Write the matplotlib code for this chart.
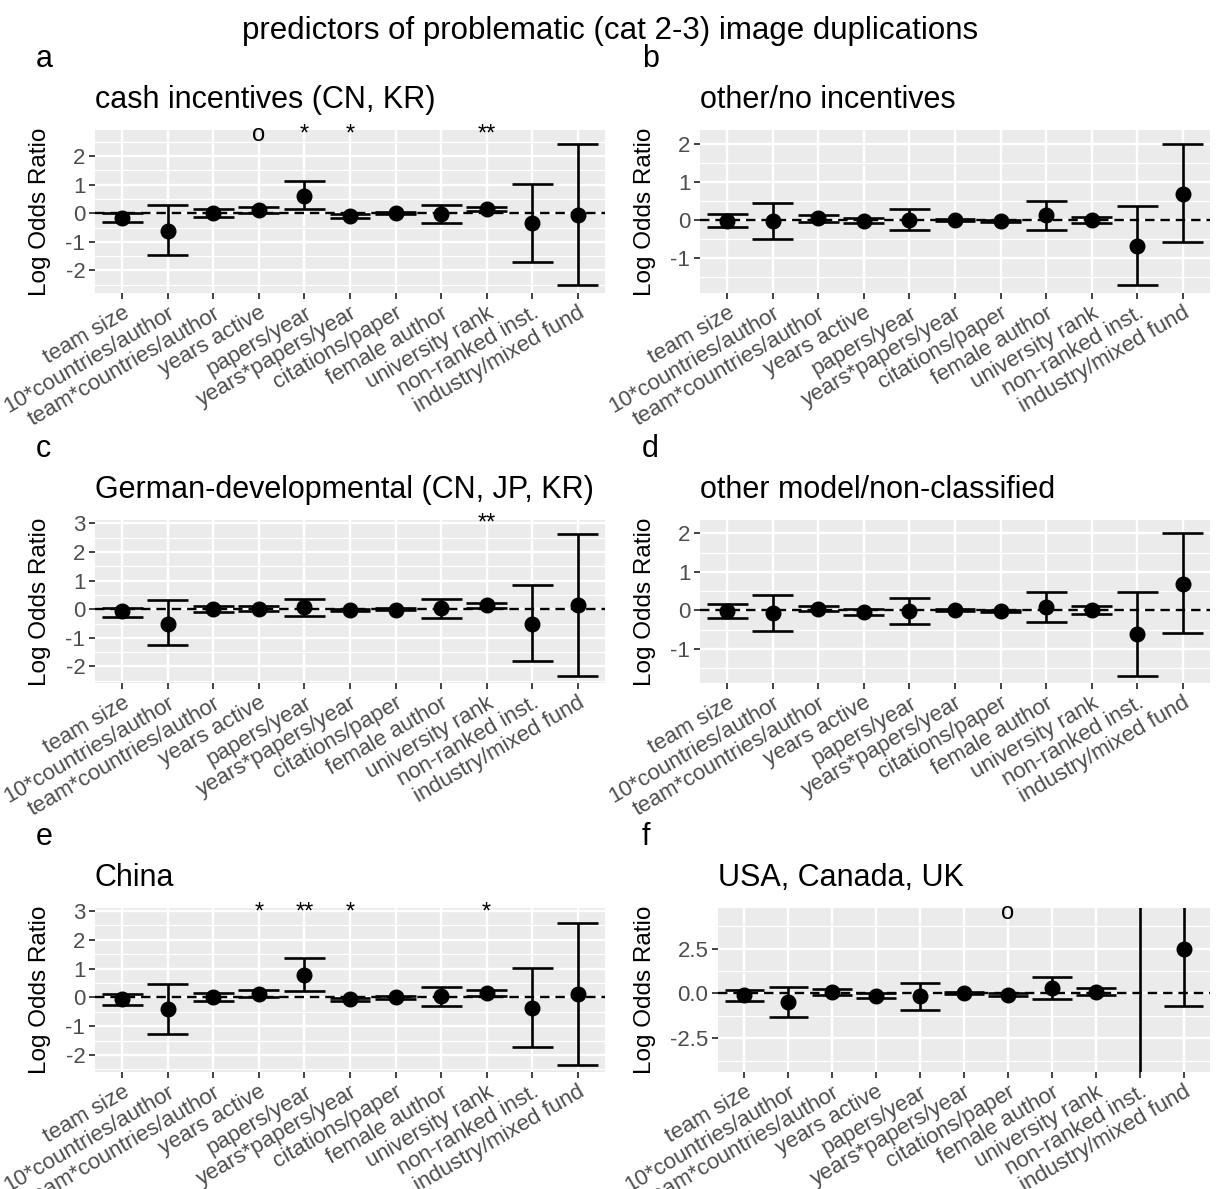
import numpy as np
import matplotlib.pyplot as plt

plt.rcParams['font.family'] = ['Liberation Sans', 'DejaVu Sans']
plt.rcParams['axes.unicode_minus'] = False

predictors = ["team size", "10*countries/author", "team*countries/author", "years active",
              "papers/year", "years*papers/year", "citations/paper", "female author",
              "university rank", "non-ranked inst.", "industry/mixed fund"]

# a: cash incentives
est_a = [-0.15, -0.61, 0.02, 0.10, 0.60, -0.09, 0.00, -0.03, 0.14, -0.35, -0.05]
lo_a = [-0.32, -1.45, -0.12, 0.01, 0.14, -0.17, -0.04, -0.35, 0.07, -1.70, -2.52]
hi_a = [0.02, 0.29, 0.15, 0.20, 1.13, -0.02, 0.04, 0.29, 0.23, 1.01, 2.43]
sig_a = ["", "", "", "o", "*", "*", "", "", "**", "", ""]

# b: other/no incentives
est_b = [-0.02, -0.03, 0.04, -0.03, 0.00, 0.00, -0.03, 0.12, 0.00, -0.68, 0.70]
lo_b = [-0.18, -0.49, -0.05, -0.09, -0.26, -0.03, -0.05, -0.27, -0.09, -1.73, -0.57]
hi_b = [0.17, 0.44, 0.12, 0.05, 0.28, 0.03, 0.01, 0.51, 0.09, 0.38, 2.00]
sig_b = [""] * 11

# c: German-developmental
est_c = [-0.07, -0.50, 0.01, 0.02, 0.08, -0.02, -0.01, 0.06, 0.14, -0.50, 0.14]
lo_c = [-0.27, -1.26, -0.10, -0.05, -0.22, -0.05, -0.04, -0.29, 0.06, -1.81, -2.35]
hi_c = [0.06, 0.31, 0.13, 0.10, 0.36, 0.02, 0.03, 0.35, 0.22, 0.85, 2.64]
sig_c = ["", "", "", "", "", "", "", "", "**", "", ""]

# d: other model/non-classified
est_d = [-0.03, -0.07, 0.04, -0.04, -0.03, 0.00, -0.03, 0.09, 0.00, -0.61, 0.69]
lo_d = [-0.21, -0.55, -0.03, -0.12, -0.35, -0.03, -0.05, -0.30, -0.09, -1.70, -0.60]
hi_d = [0.16, 0.41, 0.12, 0.04, 0.31, 0.03, 0.01, 0.48, 0.10, 0.48, 2.00]
sig_d = [""] * 11

# e: China
est_e = [-0.07, -0.41, 0.02, 0.12, 0.77, -0.07, 0.00, 0.03, 0.14, -0.36, 0.10]
lo_e = [-0.28, -1.28, -0.13, 0.01, 0.23, -0.14, -0.05, -0.30, 0.03, -1.71, -2.35]
hi_e = [0.12, 0.48, 0.14, 0.26, 1.35, -0.01, 0.04, 0.37, 0.26, 1.02, 2.58]
sig_e = ["", "", "", "*", "**", "*", "", "", "*", "", ""]

# f: USA, Canada, UK
est_f = [-0.11, -0.48, 0.07, -0.15, -0.15, 0.02, -0.07, 0.32, 0.07, -17.0, 2.49]
lo_f = [-0.43, -1.30, -0.07, -0.28, -0.91, -0.05, -0.13, -0.30, -0.07, -2400.0, -0.71]
hi_f = [0.17, 0.35, 0.26, 0.02, 0.61, 0.08, 0.04, 0.93, 0.28, 2370.0, 5.7]
sig_f = ["", "", "", "", "", "", "o", "", "", "", ""]

W, H = 1220, 1189
fig = plt.figure(figsize=(W / 100, H / 100), dpi=100)

panels = [
    # letter, title, est, lo, hi, sig, sig_y, ylim, yticks, tick fmt, rect px (l, t, r, b)
    ("a", "cash incentives (CN, KR)", est_a, lo_a, hi_a, sig_a, 2.74, (-2.79, 2.91),
     [-2, -1, 0, 1, 2], "{:.0f}", (95, 130, 605, 293)),
    ("b", "other/no incentives", est_b, lo_b, hi_b, sig_b, 0, (-1.93, 2.38),
     [-1, 0, 1, 2], "{:.0f}", (700, 130, 1210, 293)),
    ("c", "German-developmental (CN, JP, KR)", est_c, lo_c, hi_c, sig_c, 2.98, (-2.58, 3.12),
     [-2, -1, 0, 1, 2, 3], "{:.0f}", (95, 520, 605, 683)),
    ("d", "other model/non-classified", est_d, lo_d, hi_d, sig_d, 0, (-1.89, 2.35),
     [-1, 0, 1, 2], "{:.0f}", (700, 520, 1210, 683)),
    ("e", "China", est_e, lo_e, hi_e, sig_e, 2.93, (-2.59, 3.10),
     [-2, -1, 0, 1, 2, 3], "{:.0f}", (95, 908, 605, 1072)),
    ("f", "USA, Canada, UK", est_f, lo_f, hi_f, sig_f, 4.5, (-4.39, 4.78),
     [-2.5, 0, 2.5], "{:.1f}", (718, 908, 1210, 1072)),
]

fig.text(610 / W, 1 - 39 / H, "predictors of problematic (cat 2-3) image duplications",
         ha="center", va="baseline", fontsize=22.5)

x = np.arange(len(predictors))
for letter, title, est, lo, hi, sig, sig_y, ylim, yticks, fmt, rect in panels:
    l, t, r, b = rect
    ax = fig.add_axes([l / W, 1 - b / H, (r - l) / W, (b - t) / H])
    ax.set_facecolor("#EBEBEB")
    for s in ax.spines.values():
        s.set_visible(False)

    ax.set_xlim(-0.6, len(predictors) - 0.4)
    ax.set_ylim(*ylim)
    ax.set_yticks(yticks)
    ax.set_yticklabels([fmt.format(v) for v in yticks])
    step = yticks[1] - yticks[0]
    minors = np.arange(yticks[0] - step / 2, ylim[1], step)
    ax.set_yticks(minors, minor=True)
    ax.tick_params(axis="y", which="minor", length=0)
    ax.grid(True, which="major", color="white", lw=1.7)
    ax.grid(True, which="minor", axis="y", color="white", lw=0.9)
    ax.set_axisbelow(True)

    ax.set_xticks(x)
    ax.set_xticklabels(predictors, rotation=30, ha="right", va="top",
                       rotation_mode="anchor", fontsize=16, color="#4D4D4D")
    ax.tick_params(axis="both", which="major", length=4, width=1.3, color="#333333",
                   labelsize=16, labelcolor="#4D4D4D")
    ax.tick_params(axis="x", pad=3)
    ax.tick_params(axis="y", pad=3)

    ax.axhline(0, color="black", lw=1.7, ls=(0, (4, 2.5)), zorder=2)
    ax.vlines(x, lo, hi, color="black", lw=1.9, zorder=3)
    ax.hlines(lo, x - 0.45, x + 0.45, color="black", lw=1.9, zorder=3)
    ax.hlines(hi, x - 0.45, x + 0.45, color="black", lw=1.9, zorder=3)
    ax.plot(x, est, "o", color="black", ms=10.5, zorder=4)

    for xi, s in zip(x, sig):
        if s:
            ax.text(xi, sig_y, s, ha="center", va="center", fontsize=17)

    ax.set_ylabel("Log Odds Ratio", fontsize=17.5)
    ax.yaxis.set_label_coords(((51 if l < 600 else 656) - l) / (r - l), 0.5)

    lx = 36 if l < 600 else 642
    fig.text(lx / W, 1 - (t - 63) / H, letter, ha="left", va="baseline", fontsize=22)
    fig.text(l / W, 1 - (t - 22) / H, title, ha="left", va="baseline", fontsize=22)

fig.savefig("out.png", dpi=100)
